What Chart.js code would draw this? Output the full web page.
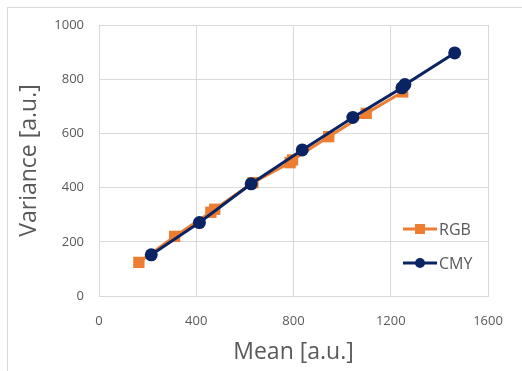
<!DOCTYPE html>
<html>
<head>
<meta charset="utf-8">
<script src="https://cdn.jsdelivr.net/npm/chart.js@4.4.0/dist/chart.umd.min.js"></script>
<style>
  html, body { margin: 0; padding: 0; background: #fff; }
  #wrap { position: relative; width: 522px; height: 371px; overflow: hidden; }
  #frame { position: absolute; left: 7px; top: 7px; width: 540px; height: 400px; border: 1px solid #d9d9d9; }
  canvas { position: absolute; left: 0; top: 0; }
</style>
</head>
<body>
<div id="wrap">
  <div id="frame"></div>
  <canvas id="chart" width="522" height="371"></canvas>
</div>
<script>
// values
var rgbMean = [164, 311, 460, 476, 633, 786, 796, 945, 1099, 1249];
var rgbVar  = [124, 220, 309, 320, 418, 492, 502, 588, 674, 753];
var cmyMean = [215, 413, 626, 836, 1044, 1246, 1258, 1463];
var cmyVar  = [152, 271, 414, 539, 659, 768, 780, 897];

var xTicks = [0, 400, 800, 1200, 1600];
var yTicks = [0, 200, 400, 600, 800, 1000];

var orange = '#ED7D31';
var navy = '#0A2463';
var grey = '#595959';

function toPoints(xs, ys) {
    return xs.map(function (x, i) { return { x: x, y: ys[i] }; });
}

// legend drawn inside the plot, like the Excel original
var legendPlugin = {
    id: 'excelLegend',
    afterDraw: function (chart) {
        var ctx = chart.ctx;
        var items = [
            { label: 'RGB', color: orange, shape: 'rect' },
            { label: 'CMY', color: navy, shape: 'circle' }
        ];
        var x0 = chart.chartArea.right - 85;
        ctx.save();
        items.forEach(function (it, i) {
            var y = chart.chartArea.bottom - 67 + i * 34;
            ctx.strokeStyle = it.color;
            ctx.lineWidth = 3;
            ctx.beginPath();
            ctx.moveTo(x0, y);
            ctx.lineTo(x0 + 34, y);
            ctx.stroke();
            ctx.fillStyle = it.color;
            if (it.shape === 'rect') {
                ctx.fillRect(x0 + 12, y - 5, 10, 10);
            } else {
                ctx.beginPath();
                ctx.arc(x0 + 17, y, 5, 0, Math.PI * 2);
                ctx.fill();
            }
            ctx.fillStyle = grey;
            ctx.font = '16px "Open Sans"';
            ctx.textBaseline = 'middle';
            ctx.fillText(it.label, x0 + 36, y + 1);
        });
        ctx.restore();
    }
};

function plain(v) { return String(v); }

new Chart(document.getElementById('chart'), {
    type: 'scatter',
    data: {
        datasets: [{
            label: 'RGB',
            data: toPoints(rgbMean, rgbVar),
            showLine: true,
            borderColor: orange,
            backgroundColor: orange,
            borderWidth: 3,
            pointStyle: 'rect',
            pointRadius: 8,
            pointBorderWidth: 0,
            order: 1
        }, {
            label: 'CMY',
            data: toPoints(cmyMean, cmyVar),
            showLine: true,
            borderColor: navy,
            backgroundColor: navy,
            borderWidth: 3,
            pointStyle: 'circle',
            pointRadius: 6.5,
            pointBorderWidth: 0,
            order: 0
        }]
    },
    options: {
        responsive: false,
        animation: false,
        layout: { padding: { top: 25, right: 34, left: 0, bottom: 0 } },
        plugins: {
            legend: { display: false },
            tooltip: { enabled: false }
        },
        scales: {
            x: {
                type: 'linear',
                min: 0, max: 1600,
                afterBuildTicks: function (s) { s.ticks = xTicks.map(function (v) { return { value: v }; }); },
                afterFit: function (s) { s.height = 75; },
                grid: { color: '#d9d9d9', drawTicks: false, lineWidth: 1 },
                border: { color: '#d9d9d9' },
                ticks: { color: grey, padding: 17, callback: plain, font: { family: 'Open Sans', size: 13 } },
                title: {
                    display: true, text: 'Mean [a.u.]', color: grey,
                    font: { family: 'Open Sans', size: 23 },
                    padding: { top: 0, bottom: 5 }
                }
            },
            y: {
                type: 'linear',
                min: 0, max: 1000,
                afterBuildTicks: function (s) { s.ticks = yTicks.map(function (v) { return { value: v }; }); },
                afterFit: function (s) { s.width = 99; },
                grid: { color: '#d9d9d9', drawTicks: false, lineWidth: 1 },
                border: { color: '#d9d9d9' },
                ticks: { color: grey, padding: 15, callback: plain, font: { family: 'Open Sans', size: 13 } },
                title: {
                    display: true, text: 'Variance [a.u.]', color: grey,
                    font: { family: 'Open Sans', size: 23 },
                    padding: { top: 16, bottom: 0 }
                }
            }
        }
    },
    plugins: [legendPlugin]
});
</script>
</body>
</html>
